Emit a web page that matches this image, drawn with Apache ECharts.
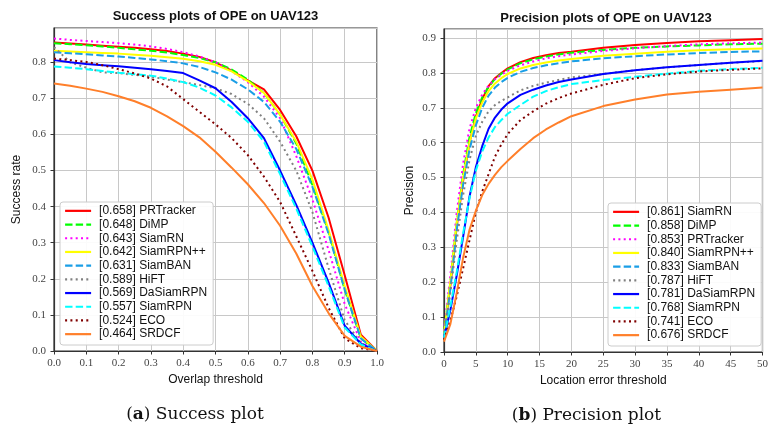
<!DOCTYPE html>
<html>
<head>
<meta charset="utf-8">
<script src="https://cdn.jsdelivr.net/npm/echarts@6/dist/echarts.min.js"></script>
<style>
  html, body { margin: 0; padding: 0; background: #fff; }
  #chart { width: 771px; height: 430px; }
</style>
</head>
<body>
<div id="chart"></div>
<script>
// --- data: success plot (overlap threshold) ---
var overlapX = [0, 0.05, 0.1, 0.15, 0.2, 0.25, 0.3, 0.35, 0.4, 0.45, 0.5, 0.55, 0.6, 0.65, 0.7, 0.75, 0.8, 0.85, 0.9, 0.95, 1.0];
var successNames = ['[0.658] PRTracker', '[0.648] DiMP', '[0.643] SiamRN', '[0.642] SiamRPN++', '[0.631] SiamBAN',
  '[0.589] HiFT', '[0.569] DaSiamRPN', '[0.557] SiamRPN', '[0.524] ECO', '[0.464] SRDCF'];
var sucPRTracker = [0.855, 0.852, 0.849, 0.846, 0.843, 0.84, 0.836, 0.831, 0.824, 0.815, 0.80, 0.777, 0.75, 0.725, 0.668, 0.595, 0.50, 0.37, 0.21, 0.045, 0];
var sucDiMP = [0.853, 0.85, 0.847, 0.844, 0.84, 0.836, 0.832, 0.827, 0.82, 0.812, 0.80, 0.78, 0.752, 0.715, 0.655, 0.575, 0.46, 0.33, 0.17, 0.035, 0];
var sucSiamRN = [0.866, 0.862, 0.859, 0.856, 0.853, 0.849, 0.844, 0.837, 0.828, 0.816, 0.80, 0.775, 0.745, 0.705, 0.645, 0.54, 0.42, 0.28, 0.13, 0.025, 0];
var sucSiamRPNpp = [0.832, 0.83, 0.828, 0.826, 0.824, 0.821, 0.818, 0.814, 0.81, 0.803, 0.793, 0.775, 0.748, 0.715, 0.655, 0.58, 0.475, 0.335, 0.18, 0.04, 0];
var sucSiamBAN = [0.828, 0.825, 0.822, 0.819, 0.816, 0.812, 0.808, 0.803, 0.797, 0.787, 0.772, 0.752, 0.725, 0.69, 0.635, 0.56, 0.455, 0.325, 0.17, 0.035, 0];
var sucHiFT = [0.842, 0.80, 0.785, 0.772, 0.77, 0.765, 0.76, 0.752, 0.745, 0.737, 0.728, 0.712, 0.685, 0.645, 0.58, 0.50, 0.385, 0.23, 0.085, 0.022, 0];
var sucDaSiamRPN = [0.806, 0.80, 0.795, 0.792, 0.789, 0.785, 0.781, 0.776, 0.77, 0.75, 0.728, 0.69, 0.645, 0.59, 0.50, 0.405, 0.30, 0.19, 0.07, 0.02, 0];
var sucSiamRPN = [0.788, 0.785, 0.781, 0.776, 0.771, 0.767, 0.763, 0.755, 0.745, 0.73, 0.708, 0.675, 0.635, 0.58, 0.49, 0.395, 0.29, 0.18, 0.065, 0.018, 0];
var sucECO = [0.81, 0.806, 0.801, 0.792, 0.781, 0.769, 0.755, 0.733, 0.698, 0.663, 0.628, 0.59, 0.543, 0.483, 0.413, 0.318, 0.222, 0.12, 0.035, 0.008, 0];
var sucSRDCF = [0.741, 0.735, 0.727, 0.718, 0.706, 0.692, 0.674, 0.65, 0.623, 0.592, 0.552, 0.508, 0.462, 0.41, 0.347, 0.27, 0.18, 0.105, 0.042, 0.012, 0];
var successValues = [sucPRTracker, sucDiMP, sucSiamRN, sucSiamRPNpp, sucSiamBAN, sucHiFT, sucDaSiamRPN, sucSiamRPN, sucECO, sucSRDCF];

// --- data: precision plot (location error threshold) ---
var errorX = [0, 1, 2, 3, 4, 5, 6, 7, 8, 9, 10, 12, 14, 16, 18, 20, 25, 30, 35, 40, 45, 50];
var precisionNames = ['[0.861] SiamRN', '[0.858] DiMP', '[0.853] PRTracker', '[0.840] SiamRPN++', '[0.833] SiamBAN',
  '[0.787] HiFT', '[0.781] DaSiamRPN', '[0.768] SiamRPN', '[0.741] ECO', '[0.676] SRDCF'];
var preSiamRN = [0.05, 0.19, 0.36, 0.49, 0.60, 0.675, 0.725, 0.762, 0.785, 0.80, 0.813, 0.831, 0.843, 0.851, 0.857, 0.861, 0.872, 0.880, 0.886, 0.891, 0.894, 0.897];
var preDiMP = [0.055, 0.20, 0.37, 0.51, 0.615, 0.685, 0.73, 0.76, 0.783, 0.798, 0.81, 0.828, 0.839, 0.847, 0.853, 0.858, 0.866, 0.872, 0.876, 0.879, 0.882, 0.884];
var prePRTracker = [0.06, 0.22, 0.40, 0.54, 0.64, 0.70, 0.738, 0.764, 0.782, 0.795, 0.806, 0.822, 0.833, 0.842, 0.848, 0.853, 0.863, 0.871, 0.877, 0.882, 0.885, 0.887];
var preSiamRPNpp = [0.05, 0.20, 0.37, 0.50, 0.60, 0.67, 0.715, 0.748, 0.77, 0.785, 0.797, 0.813, 0.823, 0.83, 0.836, 0.840, 0.849, 0.855, 0.861, 0.865, 0.868, 0.870];
var preSiamBAN = [0.045, 0.18, 0.35, 0.48, 0.58, 0.65, 0.70, 0.735, 0.758, 0.774, 0.786, 0.803, 0.814, 0.822, 0.828, 0.833, 0.842, 0.848, 0.853, 0.857, 0.860, 0.862];
var preHiFT = [0.045, 0.17, 0.32, 0.45, 0.55, 0.62, 0.66, 0.69, 0.708, 0.72, 0.73, 0.75, 0.763, 0.772, 0.78, 0.787, 0.797, 0.808, 0.816, 0.823, 0.829, 0.834];
var preDaSiamRPN = [0.04, 0.12, 0.22, 0.33, 0.445, 0.53, 0.59, 0.64, 0.672, 0.695, 0.713, 0.737, 0.752, 0.764, 0.774, 0.781, 0.797, 0.808, 0.816, 0.823, 0.829, 0.835];
var preSiamRPN = [0.04, 0.13, 0.23, 0.34, 0.44, 0.52, 0.575, 0.615, 0.645, 0.665, 0.683, 0.708, 0.732, 0.748, 0.759, 0.768, 0.78, 0.789, 0.798, 0.806, 0.811, 0.815];
var preECO = [0.035, 0.09, 0.16, 0.24, 0.32, 0.40, 0.46, 0.51, 0.56, 0.595, 0.625, 0.665, 0.69, 0.712, 0.728, 0.741, 0.766, 0.785, 0.796, 0.804, 0.809, 0.813];
var preSRDCF = [0.03, 0.08, 0.17, 0.27, 0.35, 0.405, 0.45, 0.482, 0.508, 0.53, 0.548, 0.582, 0.613, 0.638, 0.658, 0.676, 0.705, 0.724, 0.738, 0.746, 0.752, 0.758];
var precisionValues = [preSiamRN, preDiMP, prePRTracker, preSiamRPNpp, preSiamBAN, preHiFT, preDaSiamRPN, preSiamRPN, preECO, preSRDCF];

// line styles by rank (same in both plots)
var dashed = [7.4, 3.2];
var dotted = [2, 3.3];
var rankStyles = [
  { color: '#ff0000', type: 'solid' },
  { color: '#00ff00', type: dashed },
  { color: '#ff00ff', type: dotted },
  { color: '#ffff00', type: 'solid' },
  { color: '#1a9ee6', type: dashed },
  { color: '#808080', type: dotted },
  { color: '#0000ff', type: 'solid' },
  { color: '#00ffff', type: dashed },
  { color: '#800000', type: dotted },
  { color: '#ff7f2a', type: 'solid' }
];

var sansFont = '"Liberation Sans", Arial, sans-serif';
var serifFont = '"Liberation Serif", "DejaVu Serif", serif';
var gridColor = '#c8c8c8';
var frameColor = '#333333';

function buildSeries(names, xs, values, axisIndex) {
  return names.map(function (name, i) {
    return {
      name: name,
      type: 'line',
      xAxisIndex: axisIndex,
      yAxisIndex: axisIndex,
      data: xs.map(function (x, j) { return [x, values[i][j]]; }),
      symbol: 'none',
      smooth: false,
      lineStyle: { color: rankStyles[i].color, type: rankStyles[i].type, width: 2 },
      itemStyle: { color: rankStyles[i].color },
      z: 2 + i
    };
  });
}

function xAxisCfg(idx, max, interval, name, fmt) {
  return {
    type: 'value', gridIndex: idx, min: 0, max: max, interval: interval,
    name: name, nameLocation: 'middle', nameGap: 22,
    nameTextStyle: { fontFamily: sansFont, fontSize: 12, color: '#111' },
    axisLine: { show: true, onZero: false, lineStyle: { color: frameColor, width: 1.2 } },
    axisTick: { show: true, length: 3.5, lineStyle: { color: frameColor } },
    axisLabel: { fontFamily: serifFont, fontSize: 11, color: '#444', margin: 7, formatter: fmt },
    splitLine: { show: true, lineStyle: { color: gridColor, width: 1 } }
  };
}

function yAxisCfg(idx, max, name, gap) {
  return {
    type: 'value', gridIndex: idx, min: 0, max: max, interval: 0.1,
    name: name, nameLocation: 'middle', nameGap: gap, nameRotate: 90,
    nameTextStyle: { fontFamily: sansFont, fontSize: 12, color: '#111' },
    axisLine: { show: true, onZero: false, lineStyle: { color: frameColor, width: 1.2 } },
    axisTick: { show: true, length: 3.5, lineStyle: { color: frameColor } },
    axisLabel: { fontFamily: serifFont, fontSize: 11, color: '#444', margin: 8, showMaxLabel: false,
      formatter: function (v) { return v.toFixed(1); } },
    splitLine: { show: true, lineStyle: { color: gridColor, width: 1 } }
  };
}

function legendCfg(names, left, top) {
  return {
    data: names, orient: 'vertical', left: left, top: top,
    padding: [2, 6, 4, 4], itemGap: 0, itemWidth: 26, itemHeight: 10,
    itemStyle: { opacity: 0 },
    lineStyle: { width: 2.2 },
    backgroundColor: 'rgba(255,255,255,0.92)', borderColor: '#cccccc', borderWidth: 1, borderRadius: 3,
    textStyle: { fontFamily: sansFont, fontSize: 12, color: '#111', lineHeight: 13.7, padding: [0, 0, 0, 3] },
    selectedMode: false
  };
}

var chart = echarts.init(document.getElementById('chart'), null, { renderer: 'canvas' });

chart.setOption({
  backgroundColor: '#ffffff',
  animation: false,
  grid: [
    { left: 54, right: 394, top: 28, bottom: 79, show: true, borderColor: frameColor, borderWidth: 1.2, backgroundColor: 'transparent' },
    { left: 444, right: 4, top: 29, bottom: 78, show: true, borderColor: frameColor, borderWidth: 1.2, backgroundColor: 'transparent' }
  ],
  xAxis: [
    xAxisCfg(0, 1, 0.1, 'Overlap threshold', function (v) { return v.toFixed(1); }),
    xAxisCfg(1, 50, 5, 'Location error threshold', function (v) { return String(v); })
  ],
  yAxis: [
    yAxisCfg(0, 0.895, 'Success rate', 31),
    yAxisCfg(1, 0.926, 'Precision', 28)
  ],
  legend: [
    legendCfg(successNames, 60, 202),
    legendCfg(precisionNames, 608, 203)
  ],
  series: buildSeries(successNames, overlapX, successValues, 0)
    .concat(buildSeries(precisionNames, errorX, precisionValues, 1)),
  graphic: [
    { type: 'text', x: 215.5, y: 16, style: { text: 'Success plots of OPE on UAV123', font: 'bold 13px ' + sansFont, fill: '#111', textAlign: 'center', textVerticalAlign: 'middle' } },
    { type: 'text', x: 606, y: 18, style: { text: 'Precision plots of OPE on UAV123', font: 'bold 13px ' + sansFont, fill: '#111', textAlign: 'center', textVerticalAlign: 'middle' } },
    { type: 'text', x: 195, y: 415, style: {
        text: '({b|a}) Success plot', font: '17px "DejaVu Serif", serif', fill: '#111', textAlign: 'center', textVerticalAlign: 'middle',
        rich: { b: { font: 'bold 17px "DejaVu Serif", serif', fill: '#111' } } } },
    { type: 'text', x: 586.5, y: 416, style: {
        text: '({b|b}) Precision plot', font: '17px "DejaVu Serif", serif', fill: '#111', textAlign: 'center', textVerticalAlign: 'middle',
        rich: { b: { font: 'bold 17px "DejaVu Serif", serif', fill: '#111' } } } }
  ]
});

window.addEventListener('resize', function () { chart.resize(); });
</script>
</body>
</html>
